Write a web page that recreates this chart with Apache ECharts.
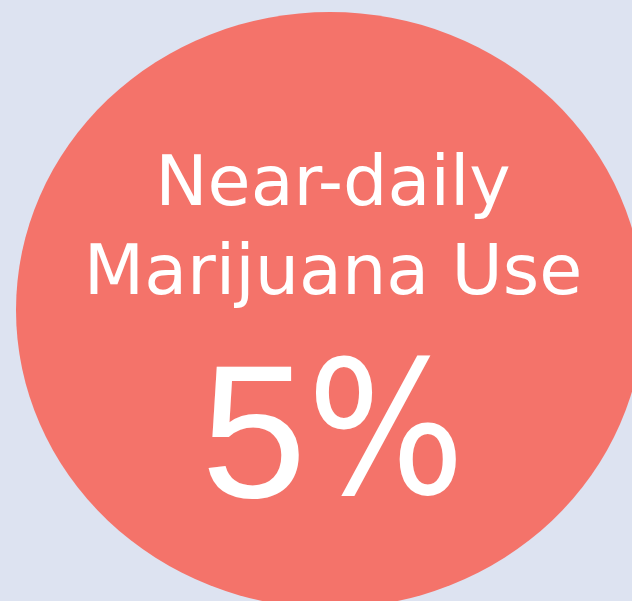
<!DOCTYPE html>
<html>
<head>
<meta charset="utf-8">
<script src="https://cdn.jsdelivr.net/npm/echarts@6/dist/echarts.min.js"></script>
<style>
html,body{margin:0;padding:0;background:#dde3f1;}
#chart{width:632px;height:601px;}
</style>
</head>
<body>
<div id="chart"></div>
<script>
// Data
var titleLines = ["Near-daily", "Marijuana Use"];
var metricValues = [5];
var metricUnit = "%";
var bubblePosition = [[0, 0]];

var chart = echarts.init(document.getElementById('chart'), null, {renderer: 'canvas'});
var labelText = titleLines.map(function (t) { return '{t|' + t + '}'; }).join('\n') +
  '\n{v|' + metricValues[0] + '}{p|' + metricUnit + '}';

chart.setOption({
  backgroundColor: '#dde3f1',
  animation: false,
  grid: {left: 28, right: 0, top: 19, bottom: 0},
  xAxis: {type: 'value', min: -1, max: 1, show: false},
  yAxis: {type: 'value', min: -1, max: 1, show: false},
  series: [{
    type: 'scatter',
    silent: true,
    data: bubblePosition,
    symbol: 'path://M0,50 A50,50 0 1,1 100,50 A50,50 0 1,1 0,50 Z',
    symbolSize: [628, 596],
    itemStyle: {color: '#f4736a', opacity: 1},
    emphasis: {disabled: true},
    label: {
      show: true,
      position: 'inside',
      offset: [3, 46],
      formatter: function () { return labelText; },
      color: '#ffffff',
      align: 'center',
      rich: {
        t: {fontFamily: 'DejaVu Sans', fontSize: 70, lineHeight: 89, color: '#ffffff', align: 'center'},
        v: {fontFamily: 'Arial', fontSize: 190, lineHeight: 249, color: '#ffffff', align: 'center'},
        p: {fontFamily: 'DejaVu Sans Condensed', fontSize: 185, lineHeight: 249, color: '#ffffff', align: 'center'}
      }
    }
  }]
});
</script>
</body>
</html>
